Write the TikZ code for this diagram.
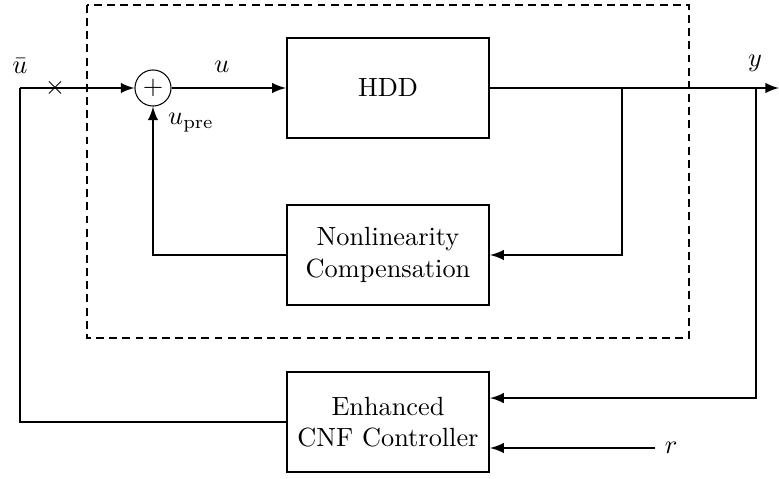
\documentclass[tikz,border=0pt]{standalone}
\usepackage{amsmath}
\usetikzlibrary{arrows}

\begin{document}
\begin{tikzpicture}[x=0.38pt, y=-0.38pt, thick, >=latex,
                block/.style={draw, rectangle, minimum width=76.8pt, minimum height=38pt, align=center},
                sumnode/.style={draw, circle, thin, minimum size=13.7pt, inner sep=0pt}]
                \useasboundingbox (0,0) rectangle (779,479);
                \draw[dashed, dash pattern=on 3pt off 2pt] (87,5) rectangle (689,338);

                \node[sumnode] (sum) at (153,88) {$+$};
                \node[block] (hdd) at (388,88) {HDD};
                \node[block] (nc) at (388,255) {Nonlinearity\\Compensation};
                \node[block] (cnf) at (388,422) {Enhanced\\CNF Controller};

                \coordinate (in) at (20,88);
                \coordinate (out) at (779,88);
                \coordinate (b1) at (622,88);
                \coordinate (b2) at (756,88);
                \coordinate (r) at (655,448);

                \node (ubar) at (20,66) {$\bar{u}$};
                \node (cross) at (55,88) {$\times$};
                \node (ulab) at (222,67) {$u$};
                \node (upre) at (191,123) {$u_{\text{pre}}$};
                \node (ylab) at (755,63) {$y$};
                \node[right] (rlab) at (r) {$r$};

                \draw[->] (in) -- (sum.west);
                \draw[->] (sum.east) -- (hdd.west);
                \draw[->] (hdd.east) -- (out);
                \draw[->] (b1) |- (nc.east);
                \draw[->] (nc.west) -| (sum.south);
                \draw[->] (b2) |- ([yshift=9.1pt]cnf.east);
                \draw[->] (r) -- (r -| cnf.east);
                \draw (cnf.west) -| (in);
            \end{tikzpicture}
\end{document}
